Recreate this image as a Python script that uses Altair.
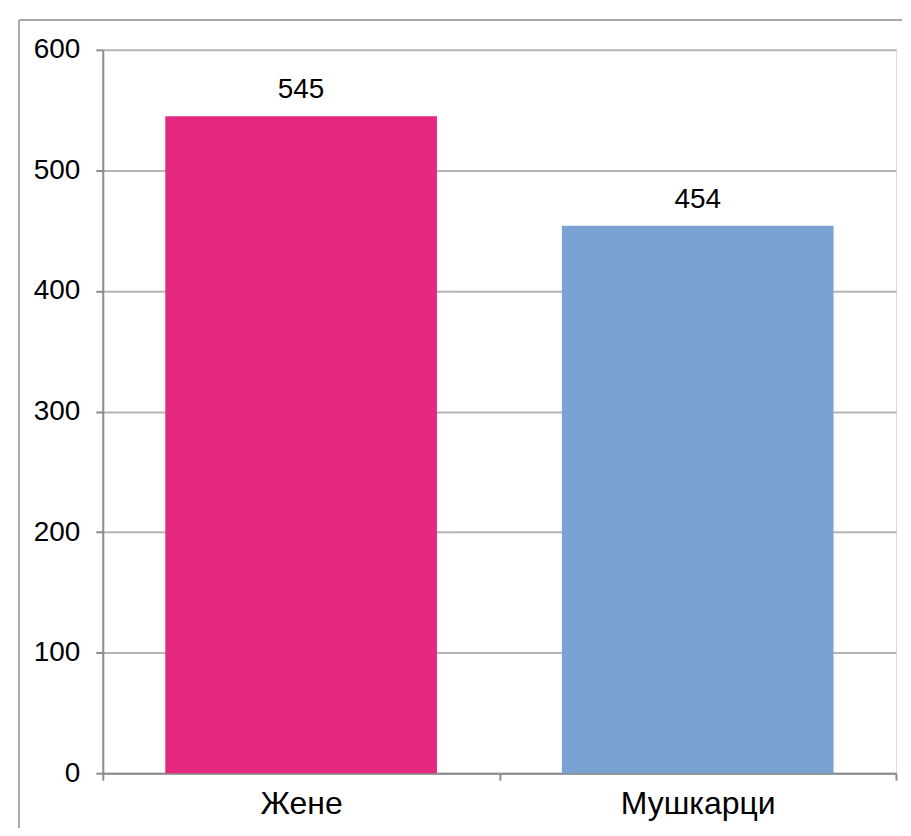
import altair as alt
import pandas as pd

categories = ["Жене", "Мушкарци"]
values = [545, 454]
colors = ["#E4287F", "#79A2D3"]
y_ticks = [0, 100, 200, 300, 400, 500, 600]

df = pd.DataFrame({"cat": categories, "val": values, "color": colors})

W, H = 795, 725
FONT = "Liberation Sans"

xenc = alt.X("cat:N", sort=categories, title=None,
             scale=alt.Scale(paddingInner=0, paddingOuter=0),
             axis=alt.Axis(labelAngle=0, labelFontSize=32, labelFont=FONT, labelColor="#000",
                           labelPadding=8, tickBand="extent", tickSize=7, tickColor="#8c8c8c",
                           domainColor="#8c8c8c", domainWidth=2, tickWidth=2, grid=False))
yenc = alt.Y("val:Q", title=None,
             scale=alt.Scale(domain=[0, 600], nice=False),
             axis=alt.Axis(values=y_ticks, labelFontSize=28, labelFont=FONT, labelColor="#000",
                           labelPadding=16, tickSize=7, tickColor="#8c8c8c", tickWidth=2,
                           domainColor="#8c8c8c", domainWidth=2,
                           gridColor="#b4b4b4", gridWidth=2))

bars = alt.Chart(df).mark_bar(width=alt.RelativeBandSize(0.685)).encode(
    x=xenc, y=yenc, color=alt.Color("color:N", scale=None)
)
labels = alt.Chart(df).mark_text(baseline="alphabetic", dy=-18, fontSize=28, font=FONT, color="#000").encode(
    x=alt.X("cat:N", sort=categories), y="val:Q", text="val:Q"
)

frame_data = alt.Data(values=[{"a": 1}])
top_rule = alt.Chart(frame_data).mark_rule(color="#a8a8a8", strokeWidth=2).encode(
    x=alt.value(-84), x2=alt.value(801), y=alt.value(-30)
)
left_rule = alt.Chart(frame_data).mark_rule(color="#a8a8a8", strokeWidth=2).encode(
    x=alt.value(-84), y=alt.value(-30), y2=alt.value(780)
)

chart = alt.layer(bars, labels, top_rule, left_rule).properties(
    width=W, height=H,
    padding={"left": 10, "top": 10, "right": 0, "bottom": 0},
).configure_view(stroke="#b4b4b4", strokeWidth=2).configure(background="white")

chart.save("out.html", embed_options={"renderer": "svg", "actions": False})
